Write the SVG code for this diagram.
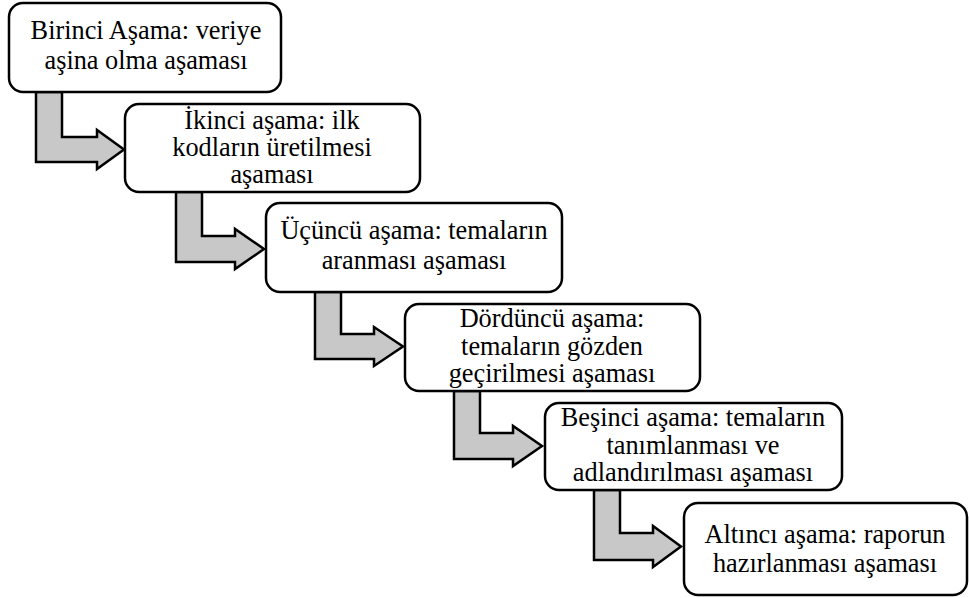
<svg xmlns="http://www.w3.org/2000/svg" width="969" height="598" viewBox="0 0 969 598">
<style>
.box{fill:#fff;stroke:#000;stroke-width:2.5}
.arr{fill:#c8c8c8;stroke:#000;stroke-width:2.5;stroke-linejoin:miter}
.t{font-family:'Liberation Serif','Times New Roman','DejaVu Serif',serif;font-size:26.3px;fill:#000;text-anchor:middle}
</style>
<rect width="969" height="598" fill="#fff"/>
<g id="connectors">
<path class="arr" d="M36,92 L62,92 L62,137 L97,137 L97,130 L124,149.5 L97,169 L97,162 L36,162 Z"/>
<path class="arr" d="M176,192 L202,192 L202,236 L235,236 L235,229 L264,249 L235,269 L235,262 L176,262 Z"/>
<path class="arr" d="M315,292 L341,292 L341,334 L374,334 L374,327 L403,346.5 L374,366 L374,359 L315,359 Z"/>
<path class="arr" d="M454,391 L480,391 L480,433 L513,433 L513,426 L542,446 L513,466 L513,459 L454,459 Z"/>
<path class="arr" d="M594,490 L620,490 L620,533 L653,533 L653,526 L681,546.5 L653,567 L653,560 L594,560 Z"/>
</g>
<g id="node1">
<rect class="box" x="9" y="3" width="272" height="89" rx="14"/>
<text class="t" x="146" y="39">Birinci Aşama: veriye</text>
<text class="t" x="146" y="69">aşina olma aşaması</text>
</g>
<g id="node2">
<rect class="box" x="125" y="104" width="295" height="88" rx="14"/>
<text class="t" x="272" y="129">İkinci aşama: ilk</text>
<text class="t" x="272" y="156">kodların üretilmesi</text>
<text class="t" x="272" y="183">aşaması</text>
</g>
<g id="node3">
<rect class="box" x="266" y="203" width="296" height="89" rx="14"/>
<text class="t" x="414" y="239">Üçüncü aşama: temaların</text>
<text class="t" x="414" y="269">aranması aşaması</text>
</g>
<g id="node4">
<rect class="box" x="405" y="304" width="295" height="87" rx="14"/>
<text class="t" x="552" y="327">Dördüncü aşama:</text>
<text class="t" x="552" y="355">temaların gözden</text>
<text class="t" x="552" y="382">geçirilmesi aşaması</text>
</g>
<g id="node5">
<rect class="box" x="545" y="403" width="297" height="87" rx="14"/>
<text class="t" x="693" y="426">Beşinci aşama: temaların</text>
<text class="t" x="693" y="454">tanımlanması ve</text>
<text class="t" x="693" y="481">adlandırılması aşaması</text>
</g>
<g id="node6">
<rect class="box" x="684" y="503" width="283" height="92" rx="14"/>
<text class="t" x="825" y="543">Altıncı aşama: raporun</text>
<text class="t" x="825" y="572">hazırlanması aşaması</text>
</g>
</svg>
